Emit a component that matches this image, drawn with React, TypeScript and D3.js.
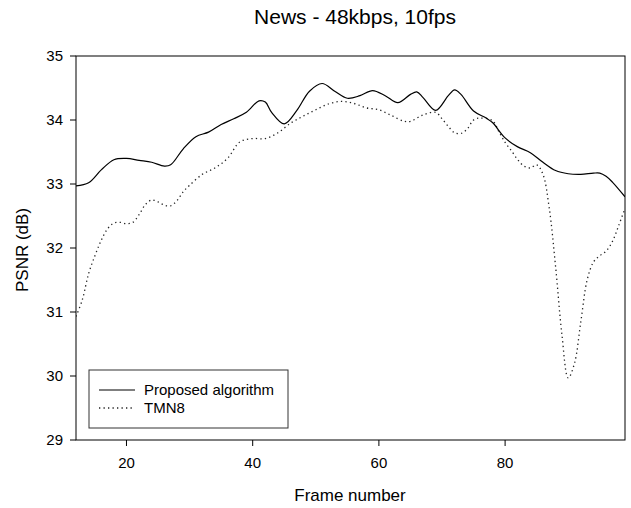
import React from "react";
import * as d3 from "d3";

// Proposed algorithm (solid)
const proposedFrames = [12, 14, 16, 18, 20, 22, 24, 26, 27, 29, 31, 33, 35, 37, 39, 41, 42, 43, 45, 47, 49, 51, 53, 55, 57, 59, 61, 63, 65, 66, 67, 69, 71, 72, 73, 75, 77, 78, 80, 82, 84, 86, 88, 90, 92, 94, 95, 96, 97, 99];
const proposedPsnr = [32.97, 33.02, 33.22, 33.38, 33.4, 33.37, 33.34, 33.28, 33.3, 33.55, 33.74, 33.81, 33.93, 34.02, 34.12, 34.3, 34.28, 34.12, 33.94, 34.15, 34.45, 34.57, 34.45, 34.34, 34.38, 34.46, 34.38, 34.27, 34.4, 34.44, 34.35, 34.15, 34.38, 34.47, 34.4, 34.14, 34.03, 33.96, 33.72, 33.58, 33.49, 33.34, 33.21, 33.16, 33.15, 33.17, 33.17, 33.12, 33.03, 32.8];

// TMN8 (dotted)
const tmnFrames = [12, 13, 14, 15, 16, 17, 18, 19, 20, 21, 22, 23, 24, 25, 26, 27, 28, 29, 30, 32, 34, 36, 38, 40, 42, 44, 46, 48, 50, 52, 54, 56, 58, 60, 62, 64, 65, 67, 69, 70, 71, 72, 73, 74, 75, 76, 78, 79, 80, 81, 82, 83, 84, 85, 86, 87, 88, 89, 90, 91, 92, 93, 94, 95, 96, 97, 98, 99];
const tmnPsnr = [30.93, 31.19, 31.6, 31.88, 32.12, 32.3, 32.39, 32.4, 32.38, 32.4, 32.52, 32.68, 32.75, 32.72, 32.67, 32.66, 32.74, 32.88, 32.98, 33.15, 33.25, 33.4, 33.66, 33.71, 33.71, 33.8, 33.95, 34.06, 34.16, 34.25, 34.29, 34.26, 34.19, 34.16, 34.07, 33.98, 33.98, 34.08, 34.12, 34.02, 33.9, 33.8, 33.79, 33.86, 34.0, 34.03, 33.99, 33.82, 33.65, 33.52, 33.38, 33.28, 33.25, 33.3, 33.15, 32.62, 31.71, 30.65, 29.97, 30.2, 30.85, 31.5, 31.78, 31.88, 31.95, 32.1, 32.35, 32.62];

const xTicks = [20, 40, 60, 80];
const yTicks = [29, 30, 31, 32, 33, 34, 35];
const seriesNames = ["Proposed algorithm", "TMN8"];

const W = 631;
const H = 508;
const m = { left: 76, right: 6, top: 56, bottom: 68 };
const font = "'Liberation Sans', Arial, sans-serif";

export default function App() {
  const x = d3.scaleLinear().domain([12, 99]).range([m.left, W - m.right]);
  const y = d3.scaleLinear().domain([29, 35]).range([H - m.bottom, m.top]);

  const line = d3
    .line<[number, number]>()
    .x((d) => x(d[0]))
    .y((d) => y(d[1]))
    .curve(d3.curveCatmullRom.alpha(0.5));

  const proposed = line(proposedFrames.map((f, i) => [f, proposedPsnr[i]]));
  const tmn = line(tmnFrames.map((f, i) => [f, tmnPsnr[i]]));

  const x0 = m.left;
  const x1 = W - m.right;
  const y0 = m.top;
  const y1 = H - m.bottom;

  return (
    <svg width={W} height={H} style={{ position: "absolute", left: 0, top: 0, background: "#fff" }} fontFamily={font}>
      <defs>
        <clipPath id="plot">
          <rect x={x0} y={y0} width={x1 - x0} height={y1 - y0} />
        </clipPath>
      </defs>

      <text x={355} y={24} fontSize={21} textAnchor="middle" fill="#000">News - 48kbps, 10fps</text>

      <g clipPath="url(#plot)">
        <path d={tmn ?? ""} fill="none" stroke="#222" strokeWidth={1.3} strokeDasharray="1.3,3.2" />
        <path d={proposed ?? ""} fill="none" stroke="#000" strokeWidth={1.2} />
      </g>

      <rect x={x0} y={y0} width={x1 - x0} height={y1 - y0} fill="none" stroke="#000" strokeWidth={1} />

      {yTicks.map((t) => (
        <g key={t}>
          <line x1={x0 - 6} x2={x0} y1={y(t)} y2={y(t)} stroke="#000" />
          <text x={63} y={y(t)} dy="0.35em" fontSize={15} textAnchor="end">{t}</text>
        </g>
      ))}
      {xTicks.map((t) => (
        <g key={t}>
          <line x1={x(t)} x2={x(t)} y1={y1} y2={y1 + 6} stroke="#000" />
          <text x={x(t)} y={468} fontSize={15} textAnchor="middle">{t}</text>
        </g>
      ))}

      <text x={350} y={501} fontSize={17} textAnchor="middle">Frame number</text>
      <text transform="translate(28,250) rotate(-90)" fontSize={17} textAnchor="middle">PSNR (dB)</text>

      <g>
        <rect x={89} y={370} width={199} height={58} fill="#fff" stroke="#333" strokeWidth={1} />
        <line x1={99} x2={135} y1={390} y2={390} stroke="#000" strokeWidth={1.2} />
        <text x={144} y={395} fontSize={15}>{seriesNames[0]}</text>
        <line x1={99} x2={135} y1={408} y2={408} stroke="#222" strokeWidth={1.3} strokeDasharray="1.3,3.2" />
        <text x={144} y={413} fontSize={15}>{seriesNames[1]}</text>
      </g>
    </svg>
  );
}
